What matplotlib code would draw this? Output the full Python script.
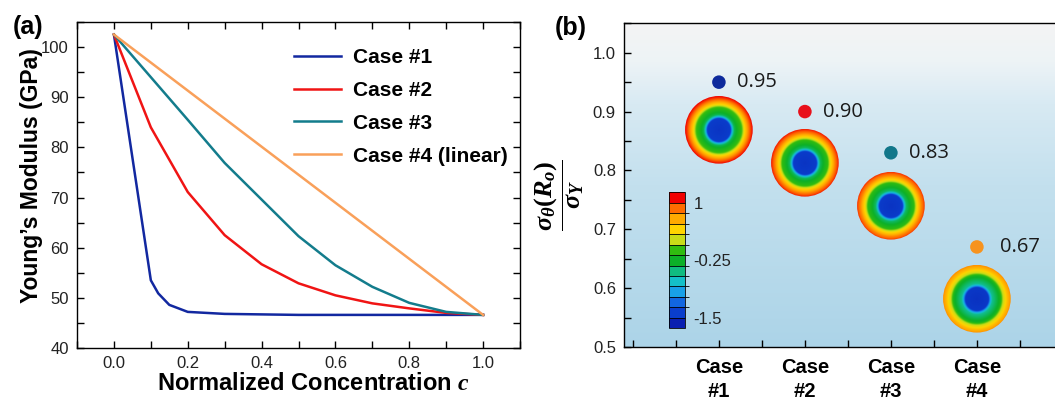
import matplotlib
matplotlib.use("Agg")
import matplotlib.pyplot as plt
import numpy as np
from matplotlib.colors import LinearSegmentedColormap, ListedColormap, BoundaryNorm
from matplotlib.patches import Ellipse
from matplotlib.ticker import MultipleLocator, FixedLocator, FormatStrFormatter
import matplotlib.cm as cm

plt.rcParams['font.family'] = ['Liberation Sans', 'DejaVu Sans']
plt.rcParams['mathtext.fontset'] = 'custom'
plt.rcParams['mathtext.it'] = 'Liberation Serif:italic:bold'
plt.rcParams['mathtext.rm'] = 'Liberation Serif:bold'
plt.rcParams['mathtext.bf'] = 'Liberation Serif:bold'

# ---- panel (a) data ----
c1 = [0.0, 0.1, 0.12, 0.15, 0.2, 0.3, 0.4, 0.5, 0.6, 0.7, 0.8, 0.9, 1.0]
E1 = [102.5, 53.5, 50.9, 48.6, 47.2, 46.8, 46.7, 46.6, 46.6, 46.6, 46.6, 46.6, 46.6]
c = [0.0, 0.1, 0.2, 0.3, 0.4, 0.5, 0.6, 0.7, 0.8, 0.9, 1.0]
E2 = [102.5, 84.0, 71.1, 62.5, 56.7, 52.9, 50.5, 48.9, 47.9, 47.0, 46.6]
E3 = [102.5, 94.0, 85.5, 76.9, 69.6, 62.3, 56.5, 52.2, 49.0, 47.2, 46.6]
c4 = [0.0, 1.0]
E4 = [102.5, 46.6]
names = ["Case #1", "Case #2", "Case #3", "Case #4 (linear)"]
colors = ["#1228a0", "#f01414", "#137c8c", "#f9a05a"]

# ---- panel (b) data ----
cases = [1, 2, 3, 4]
case_labels = ["Case\n#1", "Case\n#2", "Case\n#3", "Case\n#4"]
ratio = [0.95, 0.90, 0.83, 0.67]
ratio_txt = ["0.95", "0.90", "0.83", "0.67"]
dot_colors = ["#0d2a9c", "#e8101b", "#12778a", "#f7931e"]
disk_y = [0.869, 0.813, 0.740, 0.582]
disk_edge = [1.0, 0.98, 0.96, 0.87]
cb_ticks = [1, -0.25, -1.5]

band_colors = ['#0a1fb0', '#0a3ecc', '#1266e0', '#18a0e8', '#14c0c8', '#10bc80',
               '#0cb028', '#30bc10', '#c8dc18', '#ffd400', '#ffaa00', '#ff6c00', '#f00000']
step = 2.5 / 11
bounds = np.linspace(-1.5 - step, 1 + step, 14)

W, H = 1055, 401
fig = plt.figure(figsize=(W / 100, H / 100), dpi=100)

# ================= (a) =================
ax = fig.add_axes([77 / W, 1 - 348 / H, 443 / W, 326 / H])
ax.plot(c1, E1, color=colors[0], lw=1.8, label=names[0])
ax.plot(c, E2, color=colors[1], lw=1.8, label=names[1])
ax.plot(c, E3, color=colors[2], lw=1.8, label=names[2])
ax.plot(c4, E4, color=colors[3], lw=1.8, label=names[3])
ax.set_xlim(-0.1, 1.1)
ax.set_ylim(40, 105)
ax.xaxis.set_major_locator(FixedLocator([0, 0.2, 0.4, 0.6, 0.8, 1.0]))
ax.xaxis.set_minor_locator(FixedLocator([-0.1, 0.1, 0.3, 0.5, 0.7, 0.9, 1.1]))
ax.yaxis.set_major_locator(MultipleLocator(10))
ax.yaxis.set_minor_locator(MultipleLocator(5))
ax.tick_params(which='both', direction='in', top=True, right=True, width=1)
ax.tick_params(which='major', length=5, labelsize=12, labelcolor='#222222', pad=6)
ax.tick_params(which='minor', length=5)
for s in ax.spines.values():
    s.set_linewidth(1.0)
ax.set_xlabel(r"Normalized Concentration $c$", fontsize=17, fontweight='bold')
ax.set_ylabel("Young’s Modulus (GPa)", fontsize=16.5, fontweight='bold')
ax.xaxis.set_label_coords(0.533, -0.075)
ax.yaxis.set_label_coords(-0.077, 0.53)
ax.legend(loc='upper left', bbox_to_anchor=(0.47, 0.945), frameon=False,
          prop={'size': 15, 'weight': 'bold'}, handlelength=2.3,
          handletextpad=0.55, labelspacing=0.66, borderaxespad=0)
fig.text(28 / W, 1 - 27 / H, "(a)", fontsize=18, fontweight='bold',
         ha='center', va='center')

# ================= (b) =================
bx = fig.add_axes([624.3 / W, 1 - 347 / H, (1070 - 624.3) / W, (347 - 23.3) / H])
xmax = -0.1 + (1070 - 624.3) / 86
bx.set_xlim(-0.1, xmax)
bx.set_ylim(0.5, 1.05)

bg = LinearSegmentedColormap.from_list(
    "bg", [(0.0, "#acd4e8"), (0.5, "#c3e0ee"), (0.75, "#d8eaf3"),
           (0.88, "#edf3f6"), (1.0, "#f4f4f4")])
grad = np.linspace(0, 1, 256).reshape(-1, 1)
bx.imshow(grad, extent=[-0.1, xmax, 0.5, 1.05], origin='lower', aspect='auto',
          cmap=bg, zorder=0)

disk_cmap = LinearSegmentedColormap.from_list("disk", band_colors)
ax_w = (1070 - 624.3)
rx = 34 * (xmax + 0.1) / ax_w
ry = 34 * 0.55 / (347 - 23.3)
n = 300
yy, xx = np.mgrid[-1:1:n * 1j, -1:1:n * 1j]
rr = np.sqrt(xx ** 2 + yy ** 2)
base = np.interp(rr, [0, 0.34, 0.39, 0.45, 0.68, 0.78, 0.90, 1.0],
                 [0.06, 0.08, 0.30, 0.46, 0.60, 0.78, 0.92, 1.0])
for k in range(4):
    field = base * disk_edge[k]
    ext = [cases[k] - rx, cases[k] + rx, disk_y[k] - ry, disk_y[k] + ry]
    im = bx.imshow(field, extent=ext, origin='lower', aspect='auto',
                   cmap=disk_cmap, vmin=0, vmax=1, zorder=2, interpolation='bilinear')
    el = Ellipse((cases[k], disk_y[k]), 2 * rx * 0.995, 2 * ry * 0.995,
                 transform=bx.transData)
    im.set_clip_path(el)

bx.scatter(cases, ratio, s=95, c=dot_colors, zorder=3, edgecolors='none')
for k in range(4):
    off = 16.5 if k == 3 else 13
    bx.annotate(ratio_txt[k], (cases[k], ratio[k]), xytext=(off, 0),
                textcoords='offset points', va='center', ha='left',
                fontsize=14.5, family='Open Sans', color='#1a1a1a', zorder=4)

bx.xaxis.set_major_locator(FixedLocator(cases))
bx.xaxis.set_minor_locator(FixedLocator([0, 0.5, 1.5, 2.5, 3.5, 4.5, 5]))
bx.set_xticklabels(case_labels, fontsize=14.5, fontweight='bold', linespacing=1.3)
bx.yaxis.set_major_locator(MultipleLocator(0.1))
bx.yaxis.set_minor_locator(MultipleLocator(0.05))
bx.yaxis.set_major_formatter(FormatStrFormatter('%.1f'))
bx.tick_params(which='both', direction='in', width=1, length=5)
bx.tick_params(axis='y', which='major', labelsize=12, labelcolor='#222222', pad=6)
bx.tick_params(axis='x', which='major', pad=8)
for s in bx.spines.values():
    s.set_linewidth(1.0)
bx.spines['right'].set_visible(False)
bx.set_ylabel(r"$\dfrac{\sigma_\theta(R_o)}{\sigma_Y}$", fontsize=19)
bx.yaxis.set_label_coords(-0.086, 0.47)
fig.text(571 / W, 1 - 27.5 / H, "(b)", fontsize=18, fontweight='bold',
         ha='center', va='center')

# colorbar
cax = fig.add_axes([669 / W, 1 - 328.3 / H, 16 / W, 136 / H])
norm = BoundaryNorm(bounds, len(band_colors))
sm = cm.ScalarMappable(norm=norm, cmap=ListedColormap(band_colors))
cb = fig.colorbar(sm, cax=cax, ticks=cb_ticks, drawedges=True)
cb.outline.set_linewidth(0.6)
cb.dividers.set_linewidth(0.6)
cb.ax.set_yticklabels(["1", "-0.25", "-1.5"])
cb.ax.tick_params(length=0, labelsize=12, labelcolor='#222222', pad=6)
cb.ax.yaxis.set_minor_locator(FixedLocator(bounds[1:-1]))
cb.ax.tick_params(which='minor', length=3, width=0.6, direction='out')

fig.savefig("out.png", dpi=100)
